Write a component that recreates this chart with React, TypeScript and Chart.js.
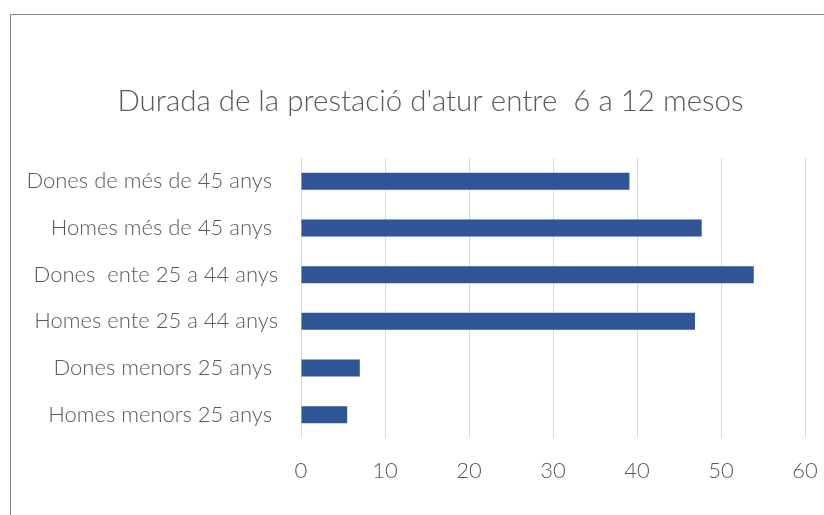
import React, { useEffect, useRef } from "react";
import { Chart, registerables } from "chart.js";

Chart.register(...registerables);

const TITLE = "Durada de la prestació d'atur entre  6 a 12 mesos";
const CATEGORIES = [
  "Dones de més de 45 anys ",
  "Homes més de 45 anys ",
  "Dones  ente 25 a 44 anys",
  "Homes ente 25 a 44 anys",
  "Dones menors 25 anys ",
  "Homes menors 25 anys ",
];
const VALUES = [39.1, 47.7, 53.9, 46.9, 7.0, 5.5];
const X_MIN = 0;
const X_MAX = 60;
const X_STEP = 10;

const FONT = "Lato";
const TEXT_COLOR = "#595959";
const BAR_COLOR = "#2F5597";
const GRID_COLOR = "#D9D9D9";

const frame = {
  id: "frame",
  beforeDraw(chart: any) {
    const ctx = chart.ctx;
    ctx.save();
    ctx.fillStyle = "#ffffff";
    ctx.fillRect(0, 0, chart.width, chart.height);
    ctx.strokeStyle = "#878787";
    ctx.lineWidth = 1;
    ctx.strokeRect(10.5, 14.5, 900, 600);
    ctx.restore();
  },
};

export default function App() {
  const ref = useRef<HTMLCanvasElement | null>(null);
  useEffect(() => {
    document.body.style.margin = "0";
    const chart = new Chart(ref.current!, {
      type: "bar",
      data: {
        labels: CATEGORIES,
        datasets: [
          {
            data: VALUES,
            backgroundColor: BAR_COLOR,
            borderWidth: 0,
            categoryPercentage: 1,
            barPercentage: 0.364,
          },
        ],
      },
      plugins: [frame],
      options: {
        indexAxis: "y",
        animation: false,
        responsive: false,
        devicePixelRatio: 1,
        layout: { padding: { left: 20, right: 0, top: 0, bottom: 0 } },
        plugins: {
          legend: { display: false },
          tooltip: { enabled: false },
          title: {
            display: true,
            text: TITLE,
            color: TEXT_COLOR,
            font: { family: FONT, size: 29.5, weight: "300" as any, lineHeight: 1.2 },
            padding: { top: 84, bottom: 38.6 },
          },
        },
        scales: {
          x: {
            min: X_MIN,
            max: X_MAX,
            ticks: {
              stepSize: X_STEP,
              color: TEXT_COLOR,
              padding: 20,
              font: { family: FONT, size: 22, weight: "300" as any },
            },
            grid: { color: GRID_COLOR, lineWidth: 1, drawTicks: false },
            border: { display: false },
            afterFit: (s: any) => {
              s.height = 77;
            },
          },
          y: {
            ticks: {
              color: TEXT_COLOR,
              padding: 23,
              font: { family: FONT, size: 22, weight: "300" as any },
            },
            grid: { display: false, drawTicks: false },
            border: { display: false },
            afterFit: (s: any) => {
              s.width = 281;
            },
          },
          spacer: {
            type: "linear",
            position: "right",
            display: true,
            ticks: { display: false },
            grid: { display: false, drawTicks: false },
            border: { display: false },
            afterFit: (s: any) => {
              s.width = 36;
            },
          },
        },
      },
    });
    return () => chart.destroy();
  }, []);
  return (
    <div style={{ width: 824, height: 515, overflow: "hidden", position: "relative" }}>
      <canvas ref={ref} width={841} height={515} style={{ display: "block" }} />
    </div>
  );
}
